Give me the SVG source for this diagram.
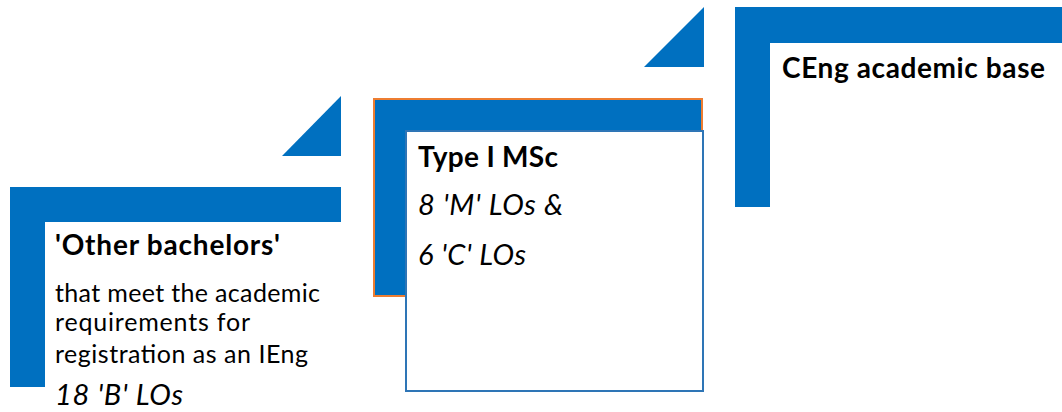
<svg xmlns="http://www.w3.org/2000/svg" width="1062" height="412" viewBox="0 0 1062 412">
<style>
.blue{fill:#0070C0}
.t{font-family:Lato,"Open Sans","Liberation Sans",sans-serif;fill:#000}
.b{font-weight:bold;font-size:28px}
.n{font-size:25px}
.i{font-style:italic;font-size:29px}
</style>
<rect width="1062" height="412" fill="#fff"/>
<g id="connectors">
<polygon class="blue" points="341,96 341,156 282,156"/>
<polygon class="blue" points="704,7 704,67 644,67"/>
</g>
<g id="node-bachelors">
<path class="blue" d="M10,187 H341 V222 H45 V387 H10 Z"/>
<text class="t b" x="55" y="255" textLength="225">'Other bachelors'</text>
<text class="t n" x="55" y="302" textLength="265">that meet the academic</text>
<text class="t n" x="55" y="331" textLength="195">requirements for</text>
<text class="t n" x="55" y="363" textLength="253">registration as an IEng</text>
<text class="t i" x="55" y="405" textLength="128">18 'B' LOs</text>
</g>
<g id="node-msc">
<rect x="374" y="99" width="328" height="197" class="blue" stroke="#ED7D31" stroke-width="2"/>
<rect x="406" y="131" width="297" height="260" fill="#fff" stroke="#2E75B6" stroke-width="2"/>
<text class="t b" x="418" y="167" textLength="140">Type I MSc</text>
<text class="t i" x="418" y="215" textLength="145">8 'M' LOs &amp;</text>
<text class="t i" x="418" y="265" textLength="108">6 'C' LOs</text>
</g>
<g id="node-ceng">
<path class="blue" d="M735,7 H1062 V43 H770 V207 H735 Z"/>
<text class="t b" x="782" y="78" textLength="263">CEng academic base</text>
</g>
</svg>
